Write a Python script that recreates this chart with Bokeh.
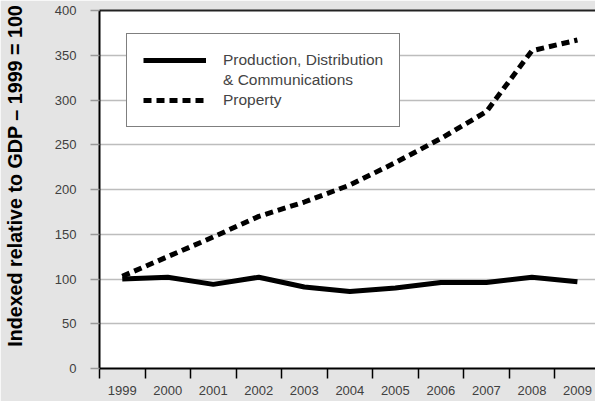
from bokeh.plotting import figure
from bokeh.models import Range1d, FixedTicker, LinearAxis, Legend, LegendItem
from bokeh.embed import file_html
from bokeh.resources import INLINE

years = [1999, 2000, 2001, 2002, 2003, 2004, 2005, 2006, 2007, 2008, 2009]
production = [100, 102, 94, 102, 91, 86, 90, 96, 96, 102, 97]
property_values = [103, 125, 147, 170, 186, 205, 230, 257, 287, 355, 367]
y_ticks = [0, 50, 100, 150, 200, 250, 300, 350, 400]
y_label = "Indexed relative to GDP \u2013 1999 = 100"
legend_labels = ["Production, Distribution", "& Communications", "Property"]

FONT = "Liberation Sans"

p = figure(width=595, height=401, output_backend="svg", toolbar_location=None,
           x_range=Range1d(1998.5, 1998.5 + 498 / 45.7), y_range=Range1d(0, 400),
           min_border_left=97, min_border_right=0, min_border_top=10, min_border_bottom=33,
           border_fill_color="#e4e4e4", background_fill_color="white",
           outline_line_color=None)

# x axis
p.xaxis.ticker = FixedTicker(ticks=years,
                             minor_ticks=[y - 0.5 for y in years] + [years[-1] + 0.5])
p.xaxis.major_label_overrides = {y: str(y) for y in years}
p.xaxis.major_tick_out = 0
p.xaxis.major_tick_in = 0
p.xaxis.minor_tick_out = 10
p.xaxis.minor_tick_in = 0
p.xaxis.minor_tick_line_color = "black"
p.xaxis.minor_tick_line_width = 1.5
p.xaxis.axis_line_color = "black"
p.xaxis.axis_line_width = 2
p.xaxis.major_label_standoff = 7
p.xaxis.major_label_text_font = FONT
p.xaxis.major_label_text_font_size = "13px"
p.xaxis.major_label_text_color = "#404040"

# y axis (the label is nudged up with non-breaking spaces so that it sits
# above the frame centre, as in the reference)
yax = p.yaxis[0]
yax.ticker = FixedTicker(ticks=y_ticks)
yax.major_tick_out = 9
yax.major_tick_in = 0
yax.major_tick_line_color = "#999999"
yax.major_tick_line_width = 1.5
yax.minor_tick_line_color = None
yax.axis_line_color = "black"
yax.axis_line_width = 2
yax.major_label_standoff = 14
yax.major_label_text_font = FONT
yax.major_label_text_font_size = "13px"
yax.major_label_text_color = "#404040"
yax.axis_label = "\u00a0" * 5 + y_label
yax.axis_label_standoff = 26
yax.axis_label_text_font = FONT
yax.axis_label_text_font_size = "19.7px"
yax.axis_label_text_font_style = "bold"
yax.axis_label_text_color = "black"

p.xgrid.visible = False
p.ygrid.grid_line_color = "#bdbdbd"
p.ygrid.grid_line_width = 1.5

top = LinearAxis(ticker=FixedTicker(ticks=[]), axis_line_width=2, axis_line_color="#222222",
                 major_tick_line_color=None, minor_tick_line_color=None,
                 major_label_text_font_size="0px", major_label_standoff=0)
p.add_layout(top, "above")

r1 = p.line(years, production, line_width=5, line_color="black")
r2 = p.line(years, property_values, line_width=5, line_color="black", line_dash="8 5")
blank = p.line([], [], line_alpha=0)

legend = Legend(items=[LegendItem(label=legend_labels[0], renderers=[r1]),
                       LegendItem(label=legend_labels[1], renderers=[blank]),
                       LegendItem(label=legend_labels[2], renderers=[r2])],
                location=(27, 241), margin=0, padding=16, spacing=0,
                glyph_width=63, glyph_height=20, label_height=20, label_standoff=17,
                label_text_font=FONT, label_text_font_size="15.5px", label_text_color="#444444",
                border_line_color="black", border_line_width=1,
                background_fill_color="white", background_fill_alpha=1)
p.add_layout(legend)

open("out.html", "w").write(file_html(p, INLINE))
